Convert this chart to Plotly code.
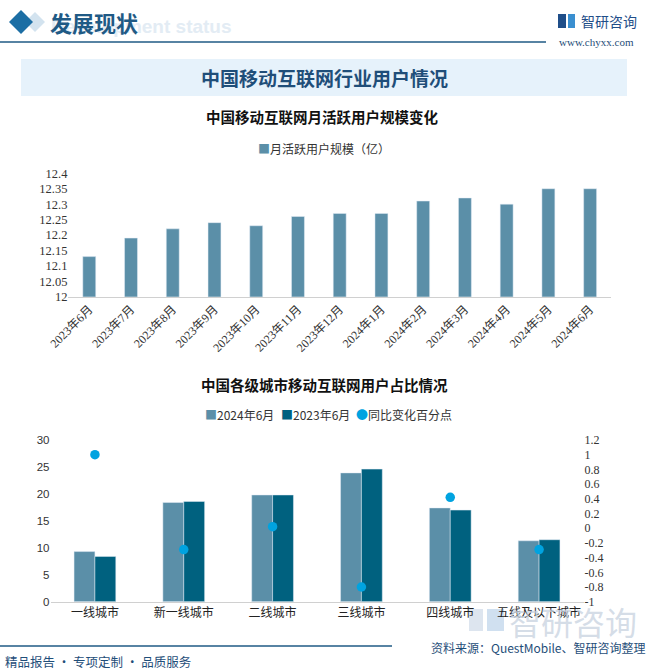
import plotly.graph_objects as go

# ---------------- data ----------------
months = ["2023年6月", "2023年7月", "2023年8月", "2023年9月", "2023年10月", "2023年11月",
          "2023年12月", "2024年1月", "2024年2月", "2024年3月", "2024年4月", "2024年5月", "2024年6月"]
mau = [12.13, 12.19, 12.22, 12.24, 12.23, 12.26, 12.27, 12.27, 12.31, 12.32, 12.30, 12.35, 12.35]
mau_name = "月活跃用户规模（亿）"
y1_ticks = [12, 12.05, 12.1, 12.15, 12.2, 12.25, 12.3, 12.35, 12.4]
y1_text = ["12", "12.05", "12.1", "12.15", "12.2", "12.25", "12.3", "12.35", "12.4"]

cities = ["一线城市", "新一线城市", "二线城市", "三线城市", "四线城市", "五线及以下城市"]
share_2024 = [9.3, 18.4, 19.8, 23.9, 17.4, 11.3]
share_2023 = [8.4, 18.6, 19.8, 24.6, 17.0, 11.5]
change_pp = [1.0, -0.29, 0.02, -0.8, 0.42, -0.29]
series2_names = ["2024年6月", "2023年6月", "同比变化百分点"]
y2_ticks = [0, 5, 10, 15, 20, 25, 30]
y3_ticks = [-1, -0.8, -0.6, -0.4, -0.2, 0, 0.2, 0.4, 0.6, 0.8, 1, 1.2]
y3_text = ["-1", "-0.8", "-0.6", "-0.4", "-0.2", "0", "0.2", "0.4", "0.6", "0.8", "1", "1.2"]

W, H = 651, 672
def px(x): return x / W
def py(y): return 1 - y / H

C_LIGHT = "#5b8fa8"
C_DARK = "#00617f"
C_DOT = "#00a3e0"
C_NAVY = "#1f5a85"
SANS = "Noto Sans CJK SC, Liberation Sans, sans-serif"
SERIF = "Liberation Serif, Noto Sans CJK SC, serif"

fig = go.Figure()

fig.add_trace(go.Bar(x=months, y=mau, name=mau_name, marker_color=C_LIGHT,
                     width=0.31, xaxis="x", yaxis="y", showlegend=False))

fig.add_trace(go.Bar(x=cities, y=share_2024, name=series2_names[0], marker_color=C_LIGHT,
                     xaxis="x2", yaxis="y2", showlegend=False))
fig.add_trace(go.Bar(x=cities, y=share_2023, name=series2_names[1], marker_color=C_DARK,
                     xaxis="x2", yaxis="y2", showlegend=False))
fig.add_trace(go.Scatter(x=cities, y=change_pp, name=series2_names[2], mode="markers",
                         marker=dict(color=C_DOT, size=9.5), xaxis="x2", yaxis="y3",
                         showlegend=False))

fig.update_layout(
    width=W, height=H, margin=dict(l=0, r=0, t=0, b=0, autoexpand=False),
    paper_bgcolor="white", plot_bgcolor="rgba(0,0,0,0)",
    barmode="group", bargap=0.53, bargroupgap=0,
    font=dict(family=SANS, color="#333333", size=12),
    xaxis=dict(domain=[px(68.4), px(611)], anchor="y", type="category", automargin=False,
               tickangle=-45, showline=True, linecolor="#d0d0d0", linewidth=1,
               ticks="", showgrid=False,
               tickfont=dict(family=SERIF, size=12, color="#333333")),
    yaxis=dict(domain=[py(296.7), py(173.3)], range=[12, 12.4], anchor="x", automargin=False,
               tickvals=y1_ticks, ticktext=y1_text, showgrid=False, zeroline=False,
               showline=False, ticks="",
               tickfont=dict(family=SERIF, size=12.5, color="#333333")),
    xaxis2=dict(domain=[px(50.5), px(583.5)], anchor="y2", type="category", automargin=False,
                showline=True, linecolor="#d0d0d0", linewidth=1, ticks="", showgrid=False,
                tickfont=dict(family=SANS, size=12, color="#222222")),
    yaxis2=dict(domain=[py(601.7), py(440)], range=[0, 30], anchor="x2", automargin=False,
                tickvals=y2_ticks, showgrid=False, zeroline=False, showline=False, ticks="",
                tickfont=dict(family="Liberation Sans, sans-serif", size=11.5, color="#333333")),
    yaxis3=dict(overlaying="y2", side="right", anchor="x2", range=[-1, 1.2], automargin=False,
                tickvals=y3_ticks, ticktext=y3_text, showgrid=False, zeroline=False,
                showline=False, ticks="",
                tickfont=dict(family=SERIF, size=12, color="#333333")),
    showlegend=False,
)

shapes = []
annotations = []

def ann(x, y, text, size, color, family=SANS, xanchor="center"):
    annotations.append(dict(x=px(x), y=py(y), xref="paper", yref="paper", xanchor=xanchor,
                            yanchor="middle", text=text, showarrow=False,
                            font=dict(family=family, size=size, color=color)))

# header
ann(234, 27, "<b>Development status</b>", 19, "#e3ecf4",
    family="Liberation Sans, sans-serif", xanchor="right")
shapes.append(dict(type="path", xref="paper", yref="paper",
                   path=f"M {px(25)} {py(22)} L {px(35)} {py(12)} L {px(45)} {py(22)} L {px(35)} {py(32)} Z",
                   fillcolor="#d3e3ef", line=dict(width=0)))
shapes.append(dict(type="path", xref="paper", yref="paper",
                   path=f"M {px(9)} {py(22)} L {px(21)} {py(10)} L {px(33)} {py(22)} L {px(21)} {py(34)} Z",
                   fillcolor="#1c6ea4", line=dict(width=0)))
ann(48, 22, "<b>发展现状</b>", 22, C_NAVY, xanchor="left")
shapes.append(dict(type="line", xref="paper", yref="paper", x0=0, x1=px(546),
                   y0=py(42), y1=py(42), line=dict(color=C_NAVY, width=1.5)))
# logo
shapes.append(dict(type="rect", xref="paper", yref="paper", x0=px(558), x1=px(566),
                   y0=py(28), y1=py(14), fillcolor="#1f4e89", line=dict(width=0)))
shapes.append(dict(type="rect", xref="paper", yref="paper", x0=px(568), x1=px(575),
                   y0=py(28), y1=py(14), fillcolor="#3a8fd0", line=dict(width=0)))
ann(579, 21, "智研咨询", 14, "#1f4e89", xanchor="left")
ann(596, 42, "www.chyxx.com", 11, "#1f4e79", family=SERIF)

# banner
shapes.append(dict(type="rect", xref="paper", yref="paper", x0=px(21), x1=px(627),
                   y0=py(96), y1=py(59), fillcolor="#e6f2fb", line=dict(width=0), layer="below"))
ann(324, 77.5, "<b>中国移动互联网行业用户情况</b>", 19, "#1f4e79")

# chart titles
ann(322, 117, "<b>中国移动互联网月活跃用户规模变化</b>", 14.5, "#111111")
ann(324, 384, "<b>中国各级城市移动互联网用户占比情况</b>", 14.5, "#111111")

# legends (built from series names)
ann(324, 148, f'<span style="color:{C_LIGHT}">■</span>{mau_name}', 12, "#333333")
ann(203, 414, f'<span style="color:{C_LIGHT}">■</span>{series2_names[0]}', 12, "#333333", xanchor="left")
ann(279, 414, f'<span style="color:{C_DARK}">■</span>{series2_names[1]}', 12, "#333333", xanchor="left")
ann(354, 414, f'<span style="color:{C_DOT}">●</span>{series2_names[2]}', 12, "#333333", xanchor="left")

# watermark logo bottom right
shapes.append(dict(type="rect", xref="paper", yref="paper", x0=px(469), x1=px(483),
                   y0=py(631), y1=py(609), fillcolor="#dde5ef", line=dict(width=0), layer="below"))
shapes.append(dict(type="rect", xref="paper", yref="paper", x0=px(487), x1=px(504),
                   y0=py(631), y1=py(609), fillcolor="#d0e0f0", line=dict(width=0), layer="below"))
annotations.append(dict(x=px(507), y=py(621), xref="paper", yref="paper", xanchor="left",
                        yanchor="middle", text="智研咨询", showarrow=False,
                        font=dict(family=SANS, size=32, color="rgba(200,210,224,0.75)")))

# footer
shapes.append(dict(type="line", xref="paper", yref="paper", x0=0, x1=px(392),
                   y0=py(646), y1=py(646), line=dict(color=C_NAVY, width=1.5)))
ann(3, 661, "精品报告 · 专项定制 · 品质服务", 12.5, "#1f4e79", xanchor="left")
ann(648, 647, "资料来源：QuestMobile、智研咨询整理", 12, "#1f4e79", xanchor="right")

fig.update_layout(shapes=shapes, annotations=annotations)

fig.write_html("out.html")
